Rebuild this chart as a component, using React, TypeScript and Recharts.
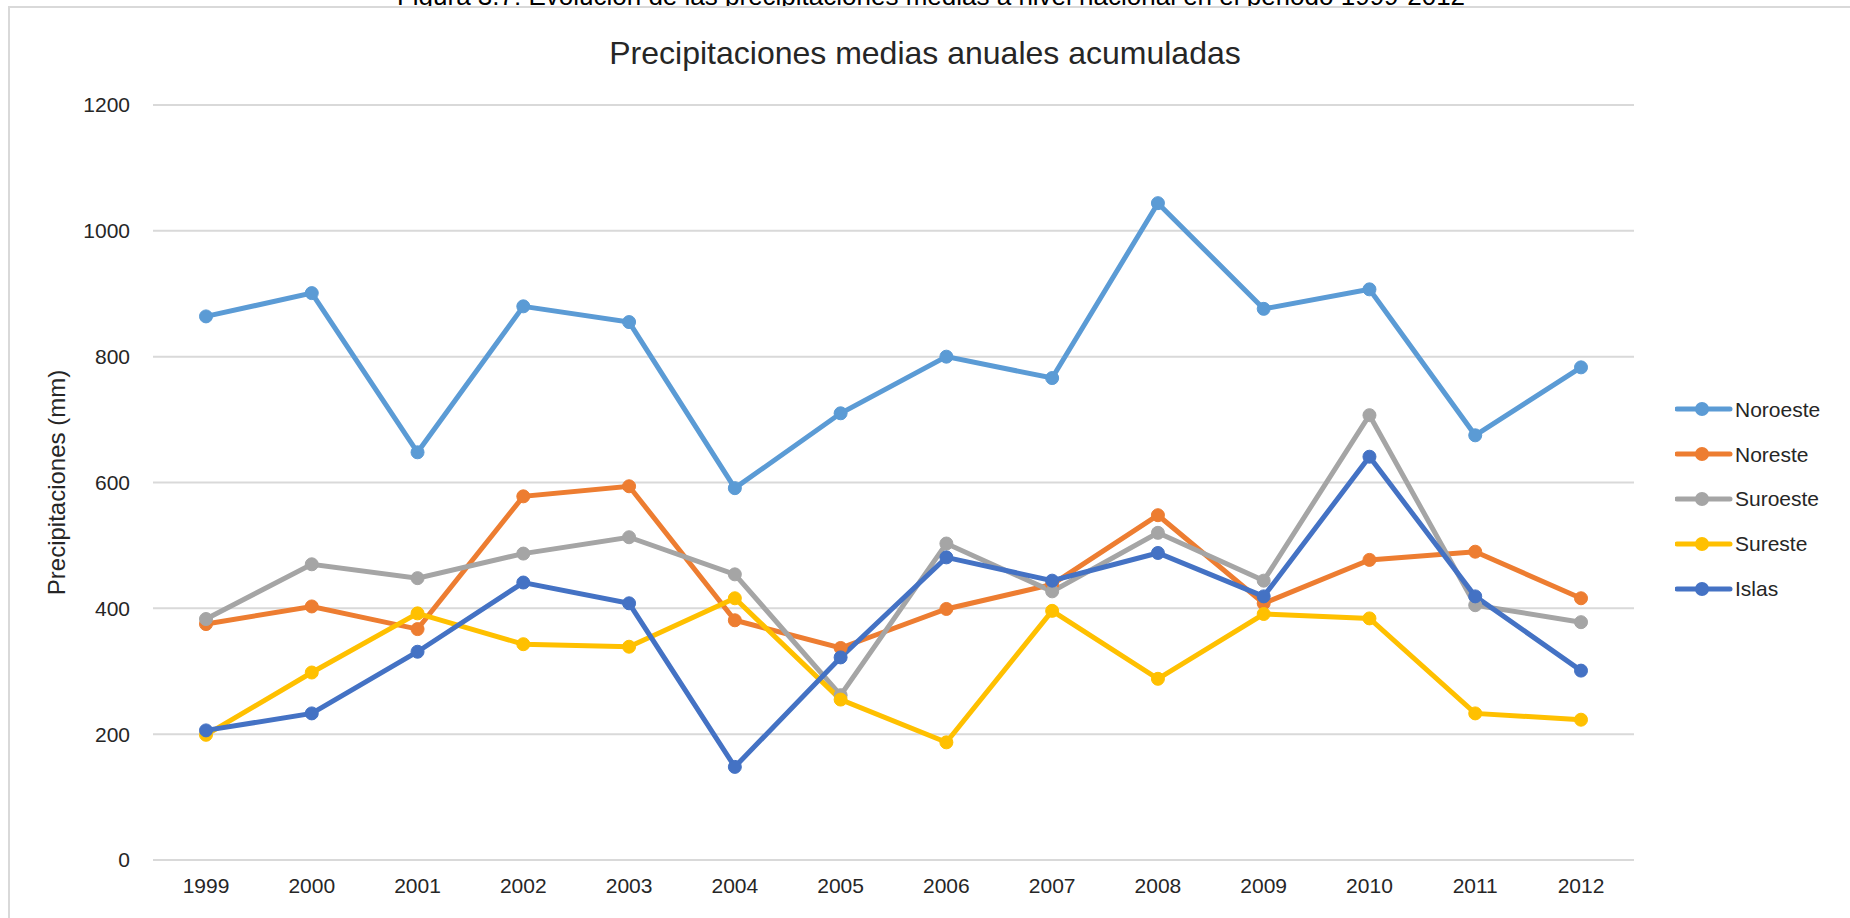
import React from 'react';
import { LineChart, Line, XAxis, YAxis, CartesianGrid } from 'recharts';

const years = ['1999', '2000', '2001', '2002', '2003', '2004', '2005', '2006', '2007', '2008', '2009', '2010', '2011', '2012'];
const noroeste = [864, 901, 648, 880, 855, 591, 710, 800, 766, 1044, 876, 907, 675, 783];
const noreste = [375, 403, 367, 578, 594, 381, 337, 399, 438, 548, 408, 477, 490, 416];
const suroeste = [383, 470, 448, 487, 513, 454, 262, 503, 427, 520, 444, 707, 405, 378];
const sureste = [199, 298, 392, 343, 339, 416, 255, 187, 396, 288, 391, 384, 233, 223];
const islas = [206, 233, 331, 441, 408, 148, 322, 481, 444, 488, 419, 641, 419, 301];
const yTicks = [0, 200, 400, 600, 800, 1000, 1200];

const series = [
  { key: 'Noroeste', color: '#5B9BD5', values: noroeste },
  { key: 'Noreste', color: '#ED7D31', values: noreste },
  { key: 'Suroeste', color: '#A5A5A5', values: suroeste },
  { key: 'Sureste', color: '#FFC000', values: sureste },
  { key: 'Islas', color: '#4472C4', values: islas },
];

const data = years.map((year, i) => {
  const row: Record<string, string | number> = { year };
  series.forEach(s => { row[s.key] = s.values[i]; });
  return row;
});

const FONT = '"Liberation Sans", Arial, sans-serif';
const TEXT = '#262626';

const App: React.FC = () => {
  return (
    <div style={{ position: 'relative', width: 1850, height: 918, overflow: 'hidden', background: '#fff', fontFamily: FONT }}>
      <style>{'body{margin:0}'}</style>

      {/* caption above the chart, mostly hidden under the frame */}
      <div style={{ position: 'absolute', top: -17.5, left: 0, width: 1862, textAlign: 'center', fontSize: 26, lineHeight: '26px', color: '#000', whiteSpace: 'nowrap' }}>
        Figura 3.7: Evolución de las precipitaciones medias a nivel nacional en el periodo 1999-2012
      </div>

      {/* chart frame */}
      <div style={{ position: 'absolute', top: 6, left: 8, width: 1900, height: 1000, background: '#fff', borderLeft: '2px solid #D9D9D9', borderTop: '2px solid #D9D9D9' }} />

      <div style={{ position: 'absolute', top: 37, left: 0, width: 1850, textAlign: 'center', fontSize: 32, lineHeight: '32px', color: TEXT }}>
        Precipitaciones medias anuales acumuladas
      </div>

      <div style={{ position: 'absolute', top: 0, left: 0 }}>
        <LineChart width={1850} height={918} data={data} margin={{ top: 105, right: 216, bottom: 28, left: 0 }}>
          <CartesianGrid vertical={false} stroke="#D9D9D9" strokeWidth={2} />
          <XAxis
            dataKey="year"
            height={30}
            padding={{ left: 53, right: 53 }}
            axisLine={{ stroke: '#D9D9D9', strokeWidth: 2 }}
            tickLine={false}
            tickSize={0}
            tickMargin={18}
            tick={{ fontSize: 21, fill: TEXT, fontFamily: FONT }}
          />
          <YAxis
            width={153}
            domain={[0, 1200]}
            ticks={yTicks}
            axisLine={false}
            tickLine={false}
            tickSize={0}
            tickMargin={23}
            tick={{ fontSize: 21, fill: TEXT, fontFamily: FONT }}
            label={{ value: 'Precipitaciones (mm)', angle: -90, position: 'center', dx: -20, fontSize: 24, fill: TEXT, fontFamily: FONT }}
          />
          {series.map(s => (
            <Line
              key={s.key}
              dataKey={s.key}
              stroke={s.color}
              strokeWidth={5}
              dot={{ r: 6.5, fill: s.color, stroke: s.color, strokeWidth: 1 }}
              activeDot={false}
              isAnimationActive={false}
            />
          ))}
        </LineChart>
      </div>

      {/* legend */}
      <div style={{ position: 'absolute', left: 1675, top: 387 }}>
        {series.map(s => (
          <div key={s.key} style={{ display: 'flex', alignItems: 'center', height: 44.8 }}>
            <svg width={58} height={16} style={{ display: 'block' }}>
              <line x1={2} y1={8} x2={55} y2={8} stroke={s.color} strokeWidth={5} strokeLinecap="round" />
              <circle cx={27} cy={8} r={7} fill={s.color} />
            </svg>
            <span style={{ fontSize: 21, color: TEXT, marginLeft: 2, lineHeight: '21px' }}>{s.key}</span>
          </div>
        ))}
      </div>
    </div>
  );
};

export default App;
